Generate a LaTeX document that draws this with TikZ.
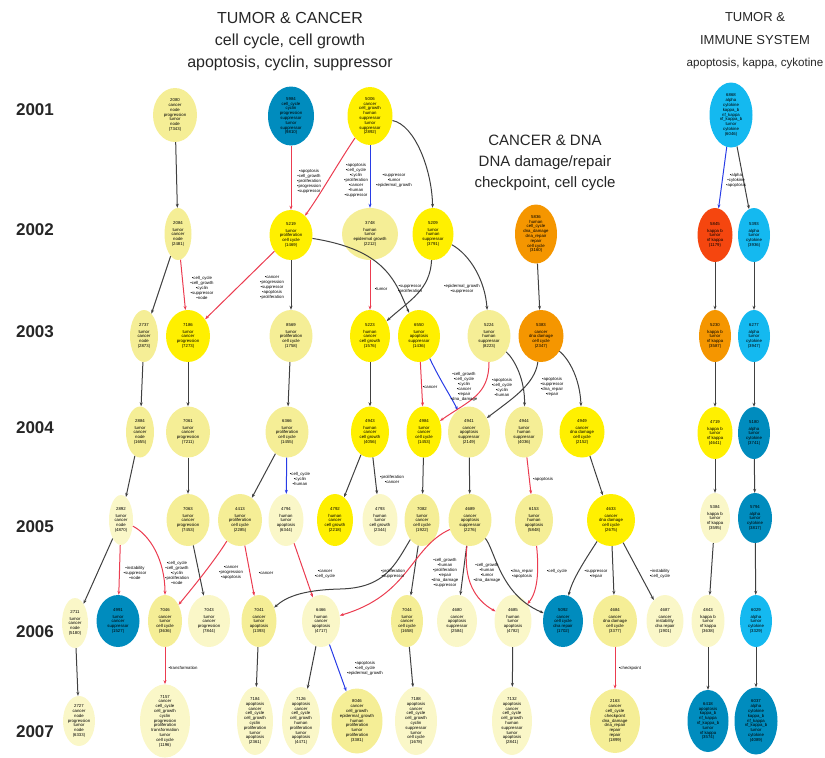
\documentclass[tikz,border=0pt]{standalone}
\usepackage{fontspec}
\setmainfont{Liberation Sans}
\usetikzlibrary{shapes.geometric,arrows.meta}
\definecolor{pale}{RGB}{245,238,150}
\definecolor{cream}{RGB}{250,247,200}
\definecolor{lemon}{RGB}{255,240,0}
\definecolor{deepblue}{RGB}{0,140,190}
\definecolor{sky}{RGB}{20,185,240}
\definecolor{amber}{RGB}{245,150,0}
\definecolor{scarlet}{RGB}{245,70,15}
\definecolor{edgered}{RGB}{235,60,80}
\definecolor{edgeblue}{RGB}{40,60,230}
\tikzset{
  topic/.style={ellipse,inner sep=0pt,align=center,font=\fontsize{4.3}{4.8}\selectfont},
  sz/.style 2 args={minimum width=#1,minimum height=#2},
  yearlab/.style={font=\fontsize{17}{20}\selectfont\bfseries,text=black!85},
  heading/.style={align=center,font=\fontsize{16}{22}\selectfont,text=black!85},
  elab/.style={align=center,inner sep=0pt,font=\fontsize{4.3}{5}\selectfont},
  link/.style={line width=1pt,-{Stealth[length=4pt,width=3pt]}},
  blk/.style={link,draw=black!75},
  rd/.style={link,draw=edgered},
  bl/.style={link,draw=edgeblue}
}
\def\idgap{\\[1.5pt]}

\begin{document}
\begin{tikzpicture}[x=1pt,y=-1pt]
\useasboundingbox (0,0) rectangle (825,758);
% 見出し
\node[heading] (h1) at (290,42) {TUMOR \& CANCER\\cell cycle, cell growth\\apoptosis, cyclin, suppressor};
\node[heading,font=\fontsize{15}{21}\selectfont] (h2) at (545,163) {CANCER \& DNA\\DNA damage/repair\\checkpoint, cell cycle};
\node[heading,font=\fontsize{13}{22.5}\selectfont] (h3) at (755,41) {TUMOR \&\\IMMUNE SYSTEM\\\fontsize{11.6}{22.5}\selectfont apoptosis, kappa, cykotine};
% 年
\node[yearlab] (t2001) at (35,110) {2001};
\node[yearlab] (t2002) at (35,230) {2002};
\node[yearlab] (t2003) at (35,332) {2003};
\node[yearlab] (t2004) at (35,428) {2004};
\node[yearlab] (t2005) at (35,527) {2005};
\node[yearlab] (t2006) at (35,632) {2006};
\node[yearlab] (t2007) at (35,732) {2007};
% ノード 2001
\node[topic,sz={44}{54},fill=pale] (y01a) at (175,115) {2080\\cancer\\node\\progression\\tumor\\node\\(7343)};
\node[topic,sz={46}{59},fill=deepblue] (y01b) at (291,116) {5984\\cell\_cycle\\cyclin\\progression\\suppressor\\tumor\\suppressor\\(9810)};
\node[topic,sz={45}{58},fill=lemon] (y01c) at (370,116) {5006\\cancer\\cell\_growth\\human\\suppressor\\tumor\\suppressor\\(2892)};
\node[topic,sz={43}{65},fill=sky] (y01d) at (731,115) {6868\\alpha\\cytokine\\kappa\_b\\nf\_kappa\\nf\_kappa\_b\\tumor\\cytokine\\(6046)};
% ノード 2002
\node[topic,sz={27}{52},fill=pale] (y02a) at (178,234) {2084\idgap tumor\\cancer\\node\\(2481)};
\node[topic,sz={43}{50},fill=lemon] (y02b) at (291,235) {5219\idgap tumor\\proliferation\\cell cycle\\(1469)};
\node[topic,sz={56}{52},fill=pale] (y02c) at (370,234) {3748\idgap human\\tumor\\epidermal growth\\(2212)};
\node[topic,sz={41}{52},fill=lemon] (y02d) at (433,234) {5209\idgap tumor\\human\\suppressor\\(3791)};
\node[topic,sz={42}{59},fill=amber] (y02e) at (536,234) {5836\\human\\cell\_cycle\\dna\_damage\\dna\_repair\\repair\\cell cycle\\(3160)};
\node[topic,sz={35}{54},fill=scarlet] (y02f) at (715,235) {5845\idgap kappa b\\tumor\\nf kappa\\(1179)};
\node[topic,sz={32}{54},fill=sky] (y02g) at (754,235) {5393\idgap alpha\\tumor\\cytokine\\(3936)};
% ノード 2003
\node[topic,sz={28}{52},fill=pale] (y03a) at (144,336) {2737\idgap tumor\\cancer\\node\\(2873)};
\node[topic,sz={44}{52},fill=lemon] (y03b) at (188,336) {7186\idgap tumor\\cancer\\progression\\(7273)};
\node[topic,sz={43}{52},fill=pale] (y03c) at (291,336) {8569\idgap tumor\\proliferation\\cell cycle\\(1758)};
\node[topic,sz={40}{52},fill=lemon] (y03d) at (370,336) {5223\idgap human\\cancer\\cell growth\\(1576)};
\node[topic,sz={42}{52},fill=lemon] (y03e) at (419,336) {6550\idgap tumor\\apoptosis\\suppressor\\(1436)};
\node[topic,sz={43}{52},fill=pale] (y03f) at (489,336) {5224\idgap tumor\\human\\suppressor\\(8223)};
\node[topic,sz={45}{52},fill=amber] (y03g) at (541,336) {5383\idgap cancer\\dna damage\\cell cycle\\(2347)};
\node[topic,sz={32}{52},fill=amber] (y03h) at (715,336) {5230\idgap kappa b\\tumor\\nf kappa\\(3587)};
\node[topic,sz={32}{52},fill=sky] (y03i) at (754,336) {6277\idgap alpha\\tumor\\cytokine\\(3947)};
% ノード 2004
\node[topic,sz={28}{51},fill=pale] (y04a) at (140,432) {2884\idgap tumor\\cancer\\node\\(1655)};
\node[topic,sz={44}{51},fill=pale] (y04b) at (188,432) {7061\idgap tumor\\cancer\\progression\\(7211)};
\node[topic,sz={43}{51},fill=pale] (y04c) at (287,432) {6366\idgap tumor\\proliferation\\cell cycle\\(1455)};
\node[topic,sz={38}{51},fill=lemon] (y04d) at (370,432) {4943\idgap human\\cancer\\cell growth\\(4056)};
\node[topic,sz={35}{51},fill=lemon] (y04e) at (424,432) {4984\idgap tumor\\cancer\\cell cycle\\(1453)};
\node[topic,sz={42}{51},fill=pale] (y04f) at (469,432) {4941\idgap cancer\\apoptosis\\suppressor\\(2149)};
\node[topic,sz={38}{51},fill=pale] (y04g) at (524,432) {4944\idgap tumor\\human\\suppressor\\(4036)};
\node[topic,sz={45}{51},fill=lemon] (y04h) at (582,432) {4949\idgap cancer\\dna damage\\cell cycle\\(2152)};
\node[topic,sz={35}{52},fill=lemon] (y04i) at (715,433) {4719\idgap kappa b\\tumor\\nf kappa\\(4641)};
\node[topic,sz={32}{52},fill=deepblue] (y04j) at (754,433) {5180\idgap alpha\\tumor\\cytokine\\(3741)};
% ノード 2005
\node[topic,sz={24}{50},fill=cream] (y05a) at (121,520) {2892\idgap tumor\\cancer\\node\\(4870)};
\node[topic,sz={43}{52},fill=pale] (y05b) at (188,520) {7063\idgap tumor\\cancer\\progression\\(7453)};
\node[topic,sz={44}{52},fill=pale] (y05c) at (240,520) {4413\idgap tumor\\proliferation\\cell cycle\\(2285)};
\node[topic,sz={35}{52},fill=cream] (y05d) at (286,520) {4794\idgap human\\tumor\\apoptosis\\(6344)};
\node[topic,sz={36}{52},fill=lemon] (y05e) at (335,520) {4792\idgap human\\cancer\\cell growth\\(2218)};
\node[topic,sz={35}{52},fill=cream] (y05f) at (380,520) {4793\idgap human\\tumor\\cell growth\\(2344)};
\node[topic,sz={35}{52},fill=pale] (y05g) at (422,520) {7082\idgap tumor\\cancer\\cell cycle\\(1922)};
\node[topic,sz={43}{52},fill=pale] (y05h) at (470,520) {4689\idgap cancer\\apoptosis\\suppressor\\(2276)};
\node[topic,sz={38}{52},fill=pale] (y05i) at (534,520) {6153\idgap tumor\\human\\apoptosis\\(5848)};
\node[topic,sz={48}{52},fill=lemon] (y05j) at (611,520) {4633\idgap cancer\\dna damage\\cell cycle\\(2675)};
\node[topic,sz={30}{50},fill=cream] (y05k) at (715,518) {5384\idgap kappa b\\tumor\\nf kappa\\(3595)};
\node[topic,sz={34}{50},fill=deepblue] (y05l) at (755,518) {5794\idgap alpha\\tumor\\cytokine\\(3817)};
% ノード 2006
\node[topic,sz={26}{50},fill=cream] (y06a) at (75,623) {2711\idgap tumor\\cancer\\node\\(5180)};
\node[topic,sz={43}{52},fill=deepblue] (y06b) at (118,621) {4991\idgap tumor\\cancer\\suppressor\\(1527)};
\node[topic,sz={34}{52},fill=pale] (y06c) at (165,621) {7046\idgap cancer\\tumor\\cell cycle\\(3636)};
\node[topic,sz={42}{52},fill=cream] (y06d) at (209,621) {7043\idgap tumor\\cancer\\progression\\(7844)};
\node[topic,sz={35}{52},fill=pale] (y06e) at (259,621) {7041\idgap cancer\\tumor\\apoptosis\\(1393)};
\node[topic,sz={38}{52},fill=cream] (y06f) at (321,621) {6466\idgap human\\cancer\\apoptosis\\(4717)};
\node[topic,sz={32}{52},fill=pale] (y06g) at (407,621) {7044\idgap tumor\\cancer\\cell cycle\\(1658)};
\node[topic,sz={40}{52},fill=cream] (y06h) at (457,621) {4680\idgap cancer\\apoptosis\\suppressor\\(2584)};
\node[topic,sz={37}{52},fill=cream] (y06i) at (513,621) {4685\idgap human\\tumor\\apoptosis\\(4782)};
\node[topic,sz={40}{52},fill=deepblue] (y06j) at (563,621) {5092\idgap cancer\\cell cycle\\dna repair\\(1702)};
\node[topic,sz={44}{52},fill=pale] (y06k) at (615,621) {4684\idgap cancer\\dna damage\\cell cycle\\(3377)};
\node[topic,sz={37}{52},fill=cream] (y06l) at (665,621) {4687\idgap cancer\\instability\\dna repair\\(1901)};
\node[topic,sz={33}{52},fill=cream] (y06m) at (708,621) {4843\idgap kappa b\\tumor\\nf kappa\\(3638)};
\node[topic,sz={32}{52},fill=sky] (y06n) at (756,621) {6029\idgap alpha\\tumor\\cytokine\\(3329)};
% ノード 2007
\node[topic,sz={32}{50},fill=cream] (y07a) at (79,721) {2727\\cancer\\node\\progression\\tumor\\node\\(6333)};
\node[topic,sz={50}{72},fill=cream] (y07b) at (165,721) {7157\\cancer\\cell\_cycle\\cell\_growth\\cyclin\\progression\\proliferation\\transformation\\tumor\\cell cycle\\(1196)};
\node[topic,sz={36}{68},fill=cream] (y07c) at (255,721) {7184\\apoptosis\\cancer\\cell\_cycle\\cell\_growth\\cyclin\\proliferation\\tumor\\apoptosis\\(2361)};
\node[topic,sz={38}{68},fill=cream] (y07d) at (301,721) {7126\\apoptosis\\cancer\\cell\_cycle\\cell\_growth\\human\\proliferation\\tumor\\apoptosis\\(4471)};
\node[topic,sz={51}{65},fill=pale] (y07e) at (357,721) {8046\\cancer\\cell\_growth\\epidermal\_growth\\human\\proliferation\\tumor\\proliferation\\(3381)};
\node[topic,sz={42}{68},fill=cream] (y07f) at (416,721) {7188\\apoptosis\\cancer\\cell\_cycle\\cell\_growth\\cyclin\\suppressor\\tumor\\cell cycle\\(1678)};
\node[topic,sz={40}{68},fill=cream] (y07g) at (512,721) {7132\\apoptosis\\cancer\\cell\_cycle\\cell\_growth\\human\\suppressor\\tumor\\apoptosis\\(2841)};
\node[topic,sz={50}{64},fill=pale] (y07h) at (615,721) {2163\\cancer\\cell\_cycle\\checkpoint\\dna\_damage\\dna\_repair\\repair\\repair\\(1899)};
\node[topic,sz={41}{62},fill=deepblue] (y07i) at (708,721) {6418\\apoptosis\\kappa\_b\\nf\_kappa\\nf\_kappa\_b\\tumor\\nf kappa\\(3574)};
\node[topic,sz={43}{67},fill=deepblue] (y07j) at (756,721) {6037\\alpha\\cytokine\\kappa\_b\\nf\_kappa\\nf\_kappa\_b\\tumor\\cytokine\\(4089)};
% 矢印 2001-2002
\draw[blk] (y01a) -- (y02a);
\draw[rd] (y01b) -- (y02b);
\draw[rd] (y01c) .. controls (340,160) and (320,195) .. (y02b);
\draw[bl] (y01c) -- (y02c);
\draw[blk] (y01c) .. controls (415,125) and (432,170) .. (y02d);
\draw[bl] (y01d) -- (y02f);
\draw[blk] (y01d) -- (y02g);
% 矢印 2002-2003
\draw[blk] (y02a) -- (y03a);
\draw[rd] (y02a) -- (y03b);
\draw[rd] (y02b) -- (y03b);
\draw[blk] (y02b) -- (y03c);
\draw[blk] (y02b) .. controls (385,250) and (395,280) .. (y03e);
\draw[rd] (y02c) -- (y03d);
\draw[blk] (y02d) .. controls (430,290) and (410,300) .. (y03d);
\draw[blk] (y02d) .. controls (470,255) and (485,280) .. (y03f);
\draw[blk] (y02e) -- (y03g);
\draw[blk] (y02f) -- (y03h);
\draw[blk] (y02g) -- (y03i);
% 矢印 2003-2004
\draw[blk] (y03a) -- (y04a);
\draw[blk] (y03b) -- (y04b);
\draw[blk] (y03c) -- (y04c);
\draw[blk] (y03d) -- (y04d);
\draw[rd] (y03e) -- (y04e);
\draw[bl] (y03e) .. controls (440,380) and (450,395) .. (y04f);
\draw[rd] (y03f) .. controls (489,395) and (470,400) .. (y04e);
\draw[blk] (y03f) .. controls (515,360) and (525,380) .. (y04g);
\draw[blk] (y03g) .. controls (535,385) and (510,400) .. (y04f);
\draw[blk] (y03g) .. controls (570,360) and (580,380) .. (y04h);
\draw[blk] (y03h) -- (y04i);
\draw[blk] (y03i) -- (y04j);
% 矢印 2004-2005
\draw[blk] (y04a) -- (y05a);
\draw[blk] (y04b) -- (y05b);
\draw[blk] (y04c) -- (y05c);
\draw[bl] (y04c) -- (y05d);
\draw[blk] (y04d) -- (y05e);
\draw[blk] (y04d) -- (y05f);
\draw[blk] (y04e) -- (y05g);
\draw[blk] (y04f) -- (y05h);
\draw[rd] (y04g) -- (y05i);
\draw[blk] (y04h) -- (y05j);
\draw[blk] (y04i) -- (y05k);
\draw[blk] (y04j) -- (y05l);
% 矢印 2005-2006
\draw[blk] (y05a) -- (y06a);
\draw[rd] (y05a) -- (y06b);
\draw[rd] (y05a) .. controls (150,535) and (165,560) .. (y06c);
\draw[blk] (y05b) -- (y06d);
\draw[rd] (y05c) .. controls (215,560) and (195,585) .. (y06c);
\draw[rd] (y05c) -- (y06e);
\draw[rd] (y05d) -- (y06f);
\draw[blk] (y05g) .. controls (395,565) and (385,588) .. (340,589) .. controls (300,590) and (285,598) .. (y06e);
\draw[blk] (y05g) -- (y06g);
\draw[rd] (y05h) .. controls (410,548) and (410,595) .. (y06f);
\draw[blk] (y05h) -- (y06h);
\draw[rd] (y05h) .. controls (463,580) and (475,600) .. (y06i);
\draw[blk] (y05h) .. controls (495,550) and (500,595) .. (y06j);
\draw[rd] (y05i) .. controls (540,580) and (535,595) .. (y06i);
\draw[blk] (y05j) .. controls (585,560) and (572,580) .. (y06j);
\draw[blk] (y05j) -- (y06k);
\draw[blk] (y05j) -- (y06l);
\draw[blk] (y05k) -- (y06m);
\draw[blk] (y05l) -- (y06n);
% 矢印 2006-2007
\draw[blk] (y06a) -- (y07a);
\draw[rd] (y06c) -- (y07b);
\draw[blk] (y06e) -- (y07c);
\draw[blk] (y06f) -- (y07d);
\draw[bl] (y06f) -- (y07e);
\draw[blk] (y06g) -- (y07f);
\draw[blk] (y06i) -- (y07g);
\draw[rd] (y06k) -- (y07h);
\draw[blk] (y06m) -- (y07i);
\draw[blk] (y06n) -- (y07j);
% ラベル
\node[elab] (l01) at (309,181) {•apoptosis\\•cell\_growth\\•proliferation\\•progression\\•suppressor};
\node[elab] (l02) at (356,180) {•apoptosis\\•cell\_cycle\\•cyclin\\•proliferation\\•cancer\\•human\\•suppressor};
\node[elab] (l03) at (394,181) {•suppressor\\•tumor\\•epidermal\_growth};
\node[elab] (l04) at (736,180) {•alpha\\•cytokine\\•apoptosis};
\node[elab] (l05) at (202,288) {•cell\_cycle\\•cell\_growth\\•cyclin\\•suppressor\\•node};
\node[elab] (l06) at (272,288) {•cancer\\•progression\\•suppressor\\•apoptosis\\•proliferation};
\node[elab] (l07) at (381,289) {•tumor};
\node[elab] (l08) at (410,289) {•suppressor\\•proliferation};
\node[elab] (l09) at (462,289) {•epidermal\_growth\\•suppressor};
\node[elab] (l10) at (430,387) {•cancer};
\node[elab] (l11) at (464,387) {•cell\_growth\\•cell\_cycle\\•cyclin\\•cancer\\•repair\\•dna\_damage};
\node[elab] (l12) at (502,387) {•apoptosis\\•cell\_cycle\\•cyclin\\•human};
\node[elab] (l13) at (552,387) {•apoptosis\\•suppressor\\•dna\_repair\\•repair};
\node[elab] (l14) at (300,479) {•cell\_cycle\\•cyclin\\•human};
\node[elab] (l15) at (392,479) {•proliferation\\•cancer};
\node[elab] (l16) at (543,479) {•apoptosis};
\node[elab] (l17) at (135,573) {•instability\\•suppressor\\•node};
\node[elab] (l18) at (177,573) {•cell\_cycle\\•cell\_growth\\•cyclin\\•proliferation\\•node};
\node[elab] (l19) at (231,573) {•cancer\\•progression\\•apoptosis};
\node[elab] (l20) at (266,573) {•cancer};
\node[elab] (l21) at (325,574) {•cancer\\•cell\_cycle};
\node[elab] (l22) at (393,574) {•proliferation\\•suppressor};
\node[elab] (l23) at (445,573) {•cell\_growth\\•human\\•proliferation\\•repair\\•dna\_damage\\•suppressor};
\node[elab] (l24) at (487,573) {•cell\_growth\\•human\\•tumor\\•dna\_damage};
\node[elab] (l25) at (522,574) {•dna\_repair\\•apoptosis};
\node[elab] (l26) at (557,571) {•cell\_cycle};
\node[elab] (l27) at (596,574) {•suppressor\\•repair};
\node[elab] (l28) at (660,574) {•instability\\•cell\_cycle};
\node[elab] (l29) at (183,668) {•transformation};
\node[elab] (l30) at (365,668) {•apoptosis\\•cell\_cycle\\•epidermal\_growth};
\node[elab] (l31) at (630,668) {•checkpoint};
\end{tikzpicture}
\end{document}
